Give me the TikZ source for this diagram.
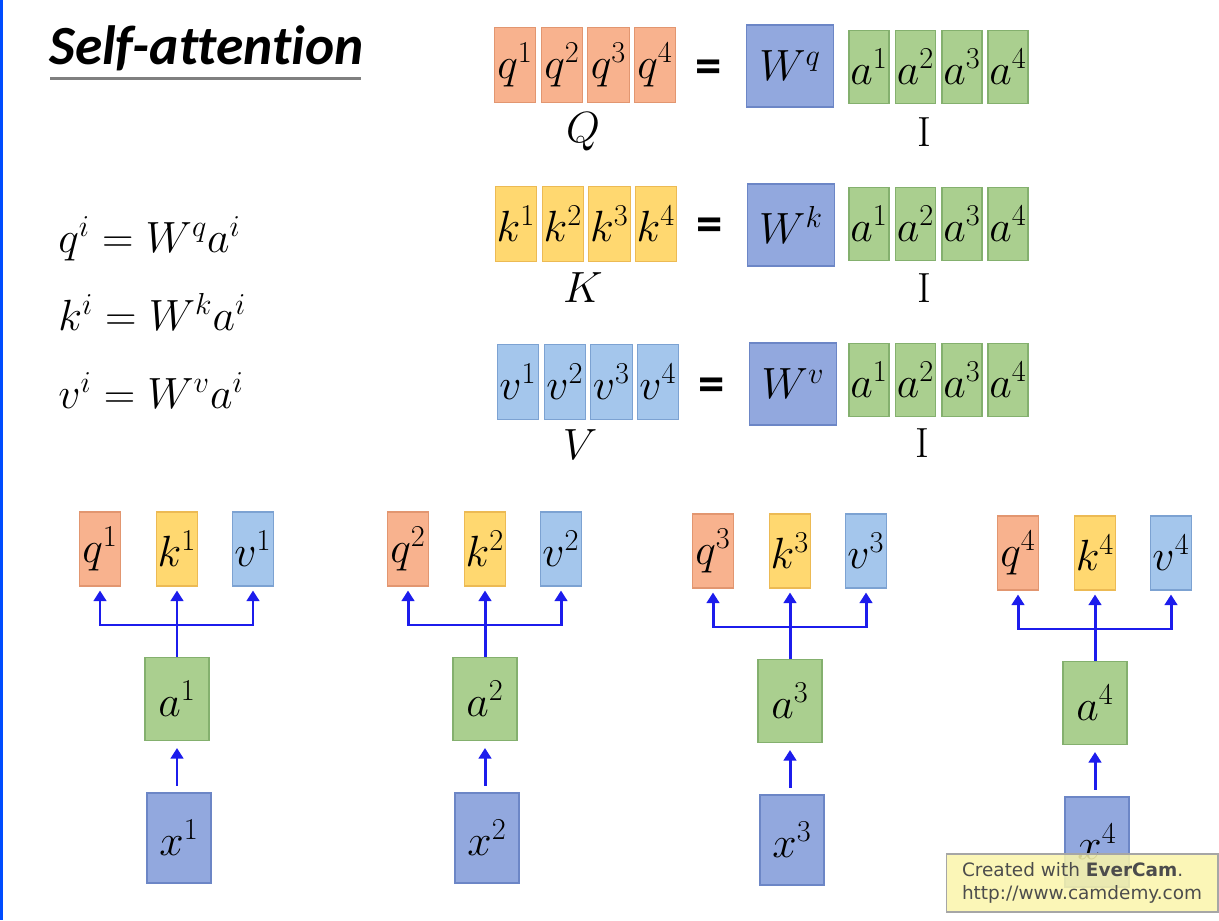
\documentclass[tikz,border=0pt]{standalone}
\usepackage{amsmath}
\usepackage{fontspec}
\usepackage{tikz}
\usetikzlibrary{arrows.meta,positioning}
\newfontfamily\titlefont[Ligatures=NoCommon]{Carlito}
\newfontfamily\stampfont{DejaVu Sans}
\newcommand{\bigmath}{\fontsize{24}{28}\selectfont}
\definecolor{qfill}{RGB}{248,178,142}
\definecolor{qline}{RGB}{226,150,112}
\definecolor{kfill}{RGB}{255,216,112}
\definecolor{kline}{RGB}{236,186,84}
\definecolor{vfill}{RGB}{164,198,236}
\definecolor{vline}{RGB}{124,162,210}
\definecolor{wfill}{RGB}{146,168,222}
\definecolor{wline}{RGB}{108,134,198}
\definecolor{afill}{RGB}{170,207,143}
\definecolor{aline}{RGB}{132,176,110}
\definecolor{flowblue}{RGB}{28,28,236}
\definecolor{stampfill}{RGB}{250,245,170}

\begin{document}
\begin{tikzpicture}[
    x=0.02cm, y=-0.02cm,
    vec/.style={rectangle, line width=0.6pt, inner sep=0pt,
        minimum width=0.83cm, minimum height=1.5cm, font=\bigmath},
    qbox/.style={vec, fill=qfill, draw=qline},
    kbox/.style={vec, fill=kfill, draw=kline},
    vbox/.style={vec, fill=vfill, draw=vline},
    abox/.style={vec, fill=afill, draw=aline, minimum width=0.8cm, minimum height=1.46cm},
    wbox/.style={rectangle, line width=0.6pt, fill=wfill, draw=wline, inner sep=0pt,
        minimum width=1.75cm, minimum height=1.64cm, font=\bigmath},
    inbox/.style={vec, minimum width=1.28cm, minimum height=1.66cm},
    label/.style={font=\bigmath, inner sep=0pt},
    equals/.style={font=\titlefont\bfseries\fontsize{30}{32}\selectfont, inner sep=0pt},
    flow/.style={draw=flowblue, line width=1.7pt},
    arrow/.style={flow, -{Triangle[length=2.1mm,width=2.5mm]}, shorten >=0.08cm}
]
\useasboundingbox (0,0) rectangle (1219,920);
\draw[line width=2pt, draw=blue!70!cyan] (1,0) -- (1,920);

% title
\node[anchor=base west, inner sep=0pt, font=\titlefont\bfseries\itshape\fontsize{31.5}{36}\selectfont]
    (title) at (49,64) {Self-attention};
\draw[line width=1.8pt, gray] (title.south west) ++(1,8) -- ++(311,0);

% definitions
\node[label, anchor=base west] (defq) at (58,252) {$q^i = W^q a^i$};
\node[label, anchor=base west] (defk) at (58,330) {$k^i = W^k a^i$};
\node[label, anchor=base west] (defv) at (58,408) {$v^i = W^v a^i$};

% matrix rows
\foreach \n/\x/\y in {1/515/869, 2/562/915.5, 3/608.5/962, 4/655/1008} {
    \node[qbox] (q\n) at (\x,65) {$q^{\n}$};
    \node[kbox] (k\n) at (\x+1,224) {$k^{\n}$};
    \node[vbox] (v\n) at (\x+3,382) {$v^{\n}$};
    \node[abox] (aq\n) at (\y,67) {$a^{\n}$};
    \node[abox] (ak\n) at (\y,224) {$a^{\n}$};
    \node[abox] (av\n) at (\y,380) {$a^{\n}$};
}
\node[equals] (eqq) at (709,72) {=};
\node[equals] (eqk) at (710,230) {=};
\node[equals] (eqv) at (712,390) {=};
\node[wbox] (wq) at (790,66) {$W^q$};
\node[wbox] (wk) at (791,225) {$W^k$};
\node[wbox] (wv) at (793,384) {$W^v$};
\node[label] (Q) at (583,132) {$Q$};
\node[label] (K) at (583,288) {$K$};
\node[label] (V) at (580,445) {$V$};
\node[label] (Iq) at (924,132) {$\mathrm{I}$};
\node[label] (Ik) at (924,288) {$\mathrm{I}$};
\node[label] (Iv) at (922,443) {$\mathrm{I}$};

% per-input projections
\foreach \i/\dx/\dy in {1/0/0, 2/308/0, 3/613/2, 4/918/4} {
    \node[qbox, minimum width=0.82cm, minimum height=1.48cm] (tq\i) at (100+\dx,549+\dy) {$q^{\i}$};
    \node[kbox, minimum width=0.82cm, minimum height=1.48cm] (tk\i) at (177+\dx,549+\dy) {$k^{\i}$};
    \node[vbox, minimum width=0.82cm, minimum height=1.48cm] (tv\i) at (253+\dx,549+\dy) {$v^{\i}$};
    \node[inbox, fill=afill, draw=aline] (a\i) at (177+\dx,699+\dy) {$a^{\i}$};
    \node[inbox, fill=wfill, draw=wline, minimum height=1.8cm] (x\i) at (179+\dx,838+\dy) {$x^{\i}$};
    \path (a\i.north) ++(0,-32) coordinate (j\i);
    \draw[arrow] (a\i.north) -- (tk\i.south);
    \draw[arrow] (j\i) -| (tq\i.south);
    \draw[arrow] (j\i) -| (tv\i.south);
    \draw[arrow, shorten <=0.14cm, shorten >=0.14cm] (x\i.north -| a\i.south) -- (a\i.south);
}

% recorder stamp
\node[rectangle, fill=stampfill, fill opacity=0.85, text opacity=1, draw=gray!70,
    line width=0.6pt, minimum width=5.44cm, minimum height=1.16cm, align=left,
    text=black!70, font=\stampfont\fontsize{10.5}{13}\selectfont] (stamp) at (1082,883)
    {Created with \textbf{EverCam}.\\http://www.camdemy.com};

\end{tikzpicture}
\end{document}
